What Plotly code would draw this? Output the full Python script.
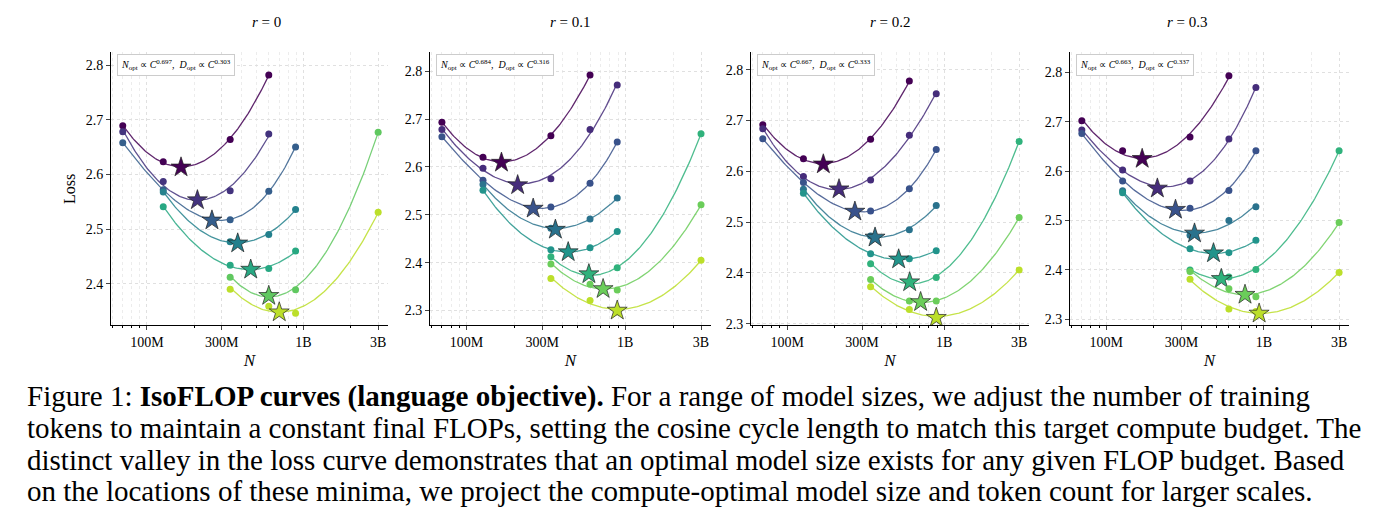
import numpy as np
import plotly.graph_objects as go
from plotly.colors import sample_colorscale

R_VALUES = ["0", "0.1", "0.2", "0.3"]
EXPONENTS = [("0.697", "0.303"), ("0.684", "0.316"), ("0.667", "0.333"), ("0.663", "0.337")]

# per panel: list of curves, each a dict {N: loss}
P0 = [
    {70e6: 2.689, 127e6: 2.623, 340e6: 2.664, 600e6: 2.782},
    {70e6: 2.678, 127e6: 2.587, 340e6: 2.570, 600e6: 2.674},
    {70e6: 2.658, 127e6: 2.572, 340e6: 2.517, 600e6: 2.569, 890e6: 2.650},
    {127e6: 2.568, 340e6: 2.477, 600e6: 2.490, 890e6: 2.536},
    {127e6: 2.541, 340e6: 2.434, 600e6: 2.428, 890e6: 2.460},
    {340e6: 2.412, 600e6: 2.382, 890e6: 2.389, 3e9: 2.677},
    {340e6: 2.390, 600e6: 2.359, 890e6: 2.346, 3e9: 2.531},
]
P1 = [
    {70e6: 2.693, 127e6: 2.620, 340e6: 2.665, 600e6: 2.792},
    {70e6: 2.678, 127e6: 2.597, 340e6: 2.575, 600e6: 2.678, 890e6: 2.771},
    {70e6: 2.663, 127e6: 2.572, 340e6: 2.516, 600e6: 2.566, 890e6: 2.652},
    {127e6: 2.563, 340e6: 2.472, 600e6: 2.491, 890e6: 2.535},
    {127e6: 2.551, 340e6: 2.427, 600e6: 2.431, 890e6: 2.465},
    {340e6: 2.412, 600e6: 2.375, 890e6: 2.389, 3e9: 2.669},
    {340e6: 2.397, 600e6: 2.355, 890e6: 2.343, 3e9: 2.521},
    {340e6: 2.367, 600e6: 2.321, 890e6: 2.297, 3e9: 2.405},
]
P2 = [
    {70e6: 2.692, 127e6: 2.625, 340e6: 2.663, 600e6: 2.778},
    {70e6: 2.684, 127e6: 2.590, 340e6: 2.583, 600e6: 2.671, 890e6: 2.753},
    {70e6: 2.664, 127e6: 2.578, 340e6: 2.522, 600e6: 2.566, 890e6: 2.643},
    {127e6: 2.565, 340e6: 2.473, 600e6: 2.485, 890e6: 2.533},
    {127e6: 2.557, 340e6: 2.438, 600e6: 2.428, 890e6: 2.444},
    {340e6: 2.418, 600e6: 2.382, 890e6: 2.391, 3e9: 2.659},
    {340e6: 2.387, 600e6: 2.345, 890e6: 2.345, 3e9: 2.509},
    {340e6: 2.373, 600e6: 2.328, 890e6: 2.312, 3e9: 2.406},
]
P3 = [
    {70e6: 2.702, 127e6: 2.641, 340e6: 2.669, 600e6: 2.793},
    {70e6: 2.683, 127e6: 2.602, 340e6: 2.580, 600e6: 2.665, 890e6: 2.769},
    {70e6: 2.676, 127e6: 2.580, 340e6: 2.525, 600e6: 2.561, 890e6: 2.641},
    {127e6: 2.560, 340e6: 2.470, 600e6: 2.500, 890e6: 2.528},
    {127e6: 2.556, 340e6: 2.443, 600e6: 2.435, 890e6: 2.460},
    {340e6: 2.400, 600e6: 2.386, 890e6: 2.401, 3e9: 2.641},
    {340e6: 2.397, 600e6: 2.362, 890e6: 2.346, 3e9: 2.496},
    {340e6: 2.381, 600e6: 2.321, 890e6: 2.316, 3e9: 2.395},
]
PANELS = [P0, P1, P2, P3]

# optimum stars (N, loss) per curve
STARS = [
    [(165e6, 2.613), (210e6, 2.553), (260e6, 2.516), (380e6, 2.474), (460e6, 2.426), (600e6, 2.378), (700e6, 2.348)],
    [(166e6, 2.609), (210e6, 2.562), (263e6, 2.513), (363e6, 2.469), (437e6, 2.422), (590e6, 2.376), (725e6, 2.345), (890e6, 2.300)],
    [(170e6, 2.614), (214e6, 2.565), (270e6, 2.521), (363e6, 2.470), (513e6, 2.427), (603e6, 2.382), (708e6, 2.343), (891e6, 2.312)],
    [(169e6, 2.625), (211e6, 2.565), (275e6, 2.522), (363e6, 2.474), (479e6, 2.434), (537e6, 2.382), (759e6, 2.350), (933e6, 2.312)],
]
YRANGES = [(2.324, 2.823), (2.269, 2.839), (2.297, 2.834), (2.288, 2.84)]
XDOMAINS = [(103, 380), (422, 703), (743, 1021), (1062, 1341)]
MINOR_X = [m * 10 ** e for e in (7, 8, 9) for m in range(2, 10)]
W, H = 1392, 523
FONT = "Liberation Serif"

fig = go.Figure()
for p, curves in enumerate(PANELS):
    xa = "x" if p == 0 else f"x{p + 1}"
    ya = "y" if p == 0 else f"y{p + 1}"
    cols = sample_colorscale("Viridis", list(np.linspace(0, 0.9, len(curves))))
    for i, c in enumerate(curves):
        col = cols[i]
        xs = np.array(list(c.keys())); ys = np.array(list(c.values()))
        lx = np.log10(xs)
        coef = np.polyfit(lx, ys, 2 if len(xs) < 5 else 3)
        gx = np.linspace(lx.min(), lx.max(), 100)
        fig.add_trace(go.Scatter(x=10 ** gx, y=np.polyval(coef, gx), mode="lines", xaxis=xa, yaxis=ya,
                                 line=dict(color=col, width=1.3), opacity=0.85, showlegend=False, hoverinfo="skip"))
        fig.add_trace(go.Scatter(x=xs, y=ys, mode="markers", xaxis=xa, yaxis=ya,
                                 marker=dict(color=col, size=7), showlegend=False))
        sx, sy = STARS[p][i]
        fig.add_trace(go.Scatter(x=[sx], y=[sy], mode="markers", xaxis=xa, yaxis=ya,
                                 marker=dict(color=col, size=15, symbol="star", line=dict(color="#222", width=0.7)),
                                 showlegend=False))
    x0, x1 = XDOMAINS[p]
    ax = dict(type="log", range=[7.77, 9.54], domain=[x0 / W, x1 / W], anchor=ya,
              tickvals=[1e8, 3e8, 1e9, 3e9], ticktext=["100M", "300M", "1B", "3B"],
              showline=True, linecolor="black", linewidth=1, ticks="outside", ticklen=4,
              showgrid=True, gridcolor="#e0e0e0", griddash="dot",
              minor=dict(tickvals=MINOR_X, ticks="outside", ticklen=2, tickcolor="black",
                         showgrid=True, gridcolor="#ececec", griddash="dot"),
              title=dict(text="<i>N</i>", font=dict(size=17), standoff=4),
              tickfont=dict(size=14), zeroline=False)
    ay = dict(range=list(YRANGES[p]), domain=[1 - 321 / H, 1 - 45 / H], anchor=xa,
              dtick=0.1, tickformat=".1f", showline=True, linecolor="black", linewidth=1,
              ticks="outside", ticklen=4, showgrid=True, gridcolor="#e0e0e0", griddash="dot",
              tickfont=dict(size=14), zeroline=False)
    if p == 0:
        ay["title"] = dict(text="Loss", font=dict(size=16), standoff=6)
    fig.update_layout(**{("xaxis" if p == 0 else f"xaxis{p + 1}"): ax,
                         ("yaxis" if p == 0 else f"yaxis{p + 1}"): ay})
    a, b = EXPONENTS[p]
    fig.add_annotation(xref="paper", yref="paper", x=(x0 + 6) / W, y=1 - 58 / H, xanchor="left", yanchor="middle",
                       text=f"<i>N</i><sub>opt</sub> ∝ <i>C</i><sup>{a}</sup>,  <i>D</i><sub>opt</sub> ∝ <i>C</i><sup>{b}</sup>",
                       showarrow=False, font=dict(size=10), bgcolor="white", bordercolor="#cccccc",
                       borderwidth=1, borderpad=3)
    fig.add_annotation(xref="paper", yref="paper", x=(x0 + x1) / 2 / W, y=1 - 14 / H, yanchor="middle",
                       text=f"<i>r</i> = {R_VALUES[p]}", showarrow=False, font=dict(size=15))

CAPTION = ["Figure 1: <b>IsoFLOP curves (language objective).</b> For a range of model sizes, we adjust the number of training",
           "tokens to maintain a constant final FLOPs, setting the cosine cycle length to match this target compute budget. The",
           "distinct valley in the loss curve demonstrates that an optimal model size exists for any given FLOP budget. Based",
           "on the locations of these minima, we project the compute-optimal model size and token count for larger scales."]
for k, line in enumerate(CAPTION):
    fig.add_annotation(xref="paper", yref="paper", x=17 / W, y=1 - (393 + 32 * k) / H, xanchor="left",
                       yanchor="middle", text=line, showarrow=False, font=dict(size=29, color="black"))

fig.update_layout(width=W, height=H, margin=dict(l=0, r=0, t=0, b=0), paper_bgcolor="white",
                  plot_bgcolor="white", font=dict(family=FONT, color="black"))
fig.write_html("out.html")
